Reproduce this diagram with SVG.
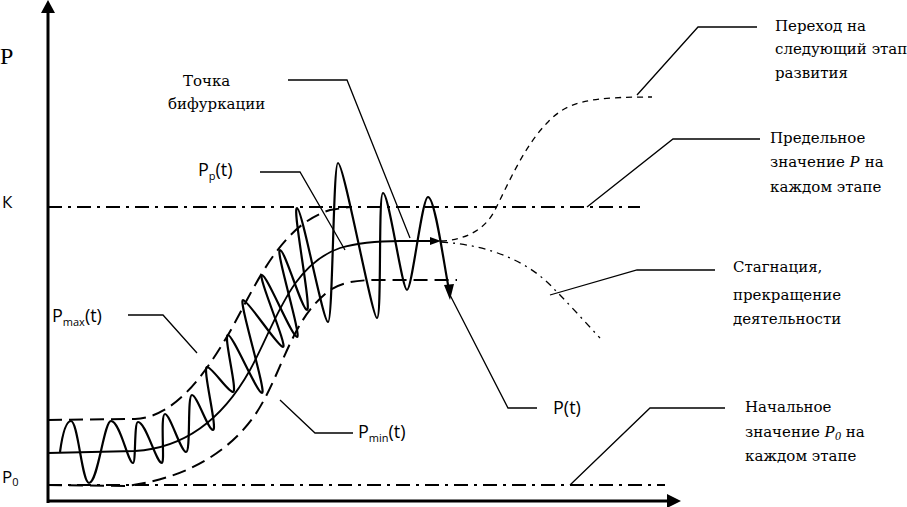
<svg xmlns="http://www.w3.org/2000/svg" width="907" height="507" viewBox="0 0 907 507">
<style>
.ax{stroke:#000;stroke-width:3;fill:none}
.ln{stroke:#000;stroke-width:1.3;fill:none}
.sl{stroke:#000;stroke-width:1.8;fill:none}
.dd{stroke:#000;stroke-width:2;fill:none;stroke-dasharray:14 6 3 6}
.dash{stroke:#000;stroke-width:2;fill:none;stroke-dasharray:14 7}
.thin{stroke:#000;stroke-width:1.3;fill:none;stroke-dasharray:6 5}
.thindd{stroke:#000;stroke-width:1.3;fill:none;stroke-dasharray:7 5 2 5}
.osc{stroke:#000;stroke-width:2.2;fill:none;stroke-linejoin:round}
</style>
<g id="axes">
<line class="ax" x1="48" y1="503" x2="48" y2="12"/>
<polygon points="48,0 41,13 55,13" fill="#000"/>
<line class="ax" x1="47" y1="501" x2="668" y2="501"/>
<polygon points="681,501 667,494 667,508" fill="#000"/>
<text x="0" y="64" font-family="Liberation Serif, serif" font-size="24">P</text>
<text x="2" y="208" font-family="Open Sans, Liberation Sans, sans-serif" font-size="17">К</text>
<text x="2" y="483" font-family="Open Sans, Liberation Sans, sans-serif" font-size="17">P<tspan font-size="11" dy="3">0</tspan></text>
</g>
<g id="levels">
<line class="dd" x1="48" y1="207" x2="640" y2="207"/>
<line class="dd" x1="48" y1="485" x2="665" y2="485"/>
</g>
<g id="pmax">
<path class="dash" d="M48,420 L135,419 C175,417 205,375 232,328 C258,280 282,225 330,210 L350,207"/>
</g>
<g id="pmin">
<path class="dash" d="M48,485 L125,486 C170,481 222,462 255,415 C283,373 290,320 330,290 C345,281 360,280 380,280 L457,280"/>
</g>
<g id="pp">
<path class="sl" d="M48,453 L135,451 C185,448 222,420 250,370 C275,325 290,265 340,248 C360,242 380,241 400,241 L432,241"/>
<polygon points="441,241 430,237 430,245" fill="#000"/>
</g>
<g id="next-stage">
<path class="thin" d="M441,241 C465,240 485,230 495,210 C510,180 525,145 548,122 C568,101 590,97 652,97"/>
</g>
<g id="stagnation">
<path class="thindd" d="M441,242 C490,245 530,262 555,290 C570,305 585,322 600,338"/>
</g>
<g id="pt">
<path class="osc" d="M60,452 C63,430 67,421 71,421 C78,421 82,483 89,483 C98,483 104,421 111,421 C120,421 128,463 133,463 C136,463 134,422 138,422 C146,422 156,463 162,463 C165,463 160,414 165,414 C170,414 181,452 186,452 C191,452 187,395 192,395 C197,395 208,430 213,430 C218,430 202,367 207,367 C212,367 228,392 233,392 C238,392 223,335 228,335 C233,335 257,393 262,393 C267,393 238,300 243,300 C248,300 278,347 283,347 C288,347 257,275 262,275 C267,275 292,337 297,337 C302,337 275,250 280,250 C285,250 302,310 307,310 C312,310 292,208 297,208 C302,208 323,322 328,322 C333,322 333,163 338,163 C344,163 372,318 377,318 C382,318 378,193 383,193 C389,193 402,290 407,290 C412,290 422,197 428,197 C435,197 444,265 449,290"/>
<polygon points="450,300 444,285 454,284" fill="#000"/>
</g>
<g id="leaders">
<polyline class="ln" points="288,80 347,80 410,238"/>
<polyline class="ln" points="260,172 300,172 345,250"/>
<polyline class="ln" points="128,315 163,315 197,353"/>
<polyline class="ln" points="353,433 315,433 280,400"/>
<polyline class="ln" points="537,408 508,408 450,295"/>
<polyline class="ln" points="757,27 698,27 637,95"/>
<polyline class="ln" points="760,139 673,139 587,207"/>
<polyline class="ln" points="715,270 637,270 550,295"/>
<polyline class="ln" points="725,408 650,408 570,485"/>
</g>
<g id="labels" font-family="DejaVu Serif, serif" font-size="15">
<text><tspan x="183" y="86">Точка</tspan><tspan x="168" y="109">бифуркации</tspan></text>
<text><tspan x="775" y="31">Переход на</tspan><tspan x="775" y="54">следующий этап</tspan><tspan x="775" y="78">развития</tspan></text>
<text><tspan x="770" y="143">Предельное</tspan><tspan x="770" y="167">значение <tspan font-family="Liberation Serif, serif" font-size="17" font-style="italic">P</tspan> на</tspan><tspan x="770" y="192">каждом этапе</tspan></text>
<text><tspan x="733" y="272">Стагнация,</tspan><tspan x="733" y="300">прекращение</tspan><tspan x="733" y="324">деятельности</tspan></text>
<text><tspan x="745" y="412">Начальное</tspan><tspan x="745" y="437">значение <tspan font-family="Liberation Serif, serif" font-size="17" font-style="italic">P<tspan font-size="12" dy="3">0</tspan></tspan><tspan dy="-3"> на</tspan></tspan><tspan x="745" y="461">каждом этапе</tspan></text>
</g>
<g id="sans-labels" font-family="Open Sans, Liberation Sans, sans-serif" font-size="18">
<text x="198" y="176">P<tspan font-size="11" dy="4">p</tspan><tspan dy="-4">(t)</tspan></text>
<text x="52" y="322">P<tspan font-size="11" dy="4">max</tspan><tspan dy="-4">(t)</tspan></text>
<text x="358" y="438">P<tspan font-size="11" dy="4">min</tspan><tspan dy="-4">(t)</tspan></text>
<text x="553" y="414">P(t)</text>
</g>
</svg>
